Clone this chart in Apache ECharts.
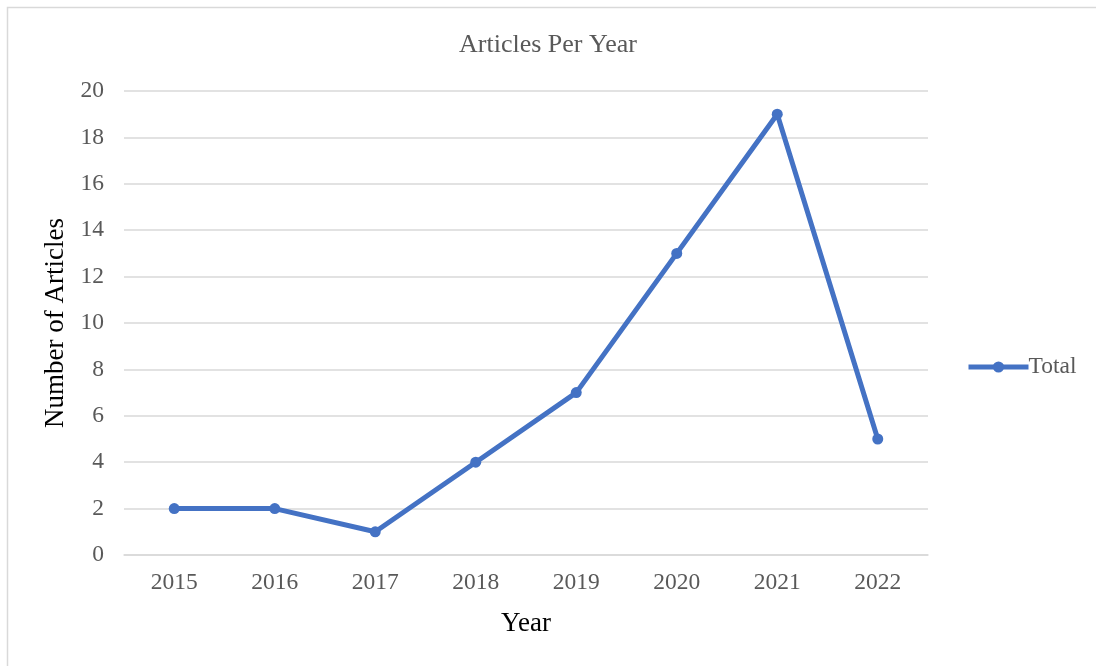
<!DOCTYPE html>
<html><head><meta charset="utf-8">
<script src="https://cdn.jsdelivr.net/npm/echarts@6/dist/echarts.min.js"></script>
<style>html,body{margin:0;padding:0;background:#fff}#c{width:1096px;height:666px}</style>
</head><body><div id="c"></div>
<script>
const years = ['2015','2016','2017','2018','2019','2020','2021','2022'];
const totals = [2, 2, 1, 4, 7, 13, 19, 5];
const yTicks = [0, 2, 4, 6, 8, 10, 12, 14, 16, 18, 20];

const FONT = '"Liberation Serif", "Times New Roman", serif';
const TXT = '#595959';
const chart = echarts.init(document.getElementById('c'), null, {renderer: 'canvas'});
chart.setOption({
  backgroundColor: '#fff',
  animation: false,
  graphic: [{type: 'rect', shape: {x: 7.5, y: 7.5, width: 1100, height: 700}, style: {fill: 'none', stroke: '#d9d9d9', lineWidth: 1.5}, silent: true}],
  title: {text: 'Articles Per Year', left: 'center', top: 27, textStyle: {fontFamily: FONT, fontSize: 26, fontWeight: 'normal', color: TXT}},
  legend: {data: ['Total'], orient: 'vertical', top: 350, left: 961,
    itemWidth: 60, itemHeight: 14, itemGap: 4,
    lineStyle: {width: 5, color: '#4472C4'},
    itemStyle: {color: '#4472C4'},
    textStyle: {fontFamily: FONT, fontSize: 23.5, color: TXT, padding: [0,0,0,-5]}},
  grid: {left: 124, right: 168, top: 91, bottom: 111, containLabel: false},
  xAxis: {type: 'category', data: years, boundaryGap: true, name: 'Year', nameLocation: 'middle', nameGap: 55,
    nameTextStyle: {fontFamily: FONT, fontSize: 27, color: '#000'},
    axisLine: {lineStyle: {color: '#d9d9d9', width: 1.5}}, axisTick: {show: false},
    axisLabel: {fontFamily: FONT, fontSize: 23.5, color: TXT, margin: 16}},
  yAxis: {type: 'value', min: 0, max: 20, interval: 2, name: 'Number of Articles', nameLocation: 'middle', nameGap: 46,
    nameTextStyle: {fontFamily: FONT, fontSize: 27, color: '#000'},
    axisLine: {show: false}, axisTick: {show: false},
    splitLine: {lineStyle: {color: '#d9d9d9', width: 1.5}},
    axisLabel: {fontFamily: FONT, fontSize: 23.5, color: TXT, margin: 20,
      formatter: v => yTicks.includes(v) ? String(v) : ''}},
  series: [{name: 'Total', type: 'line', data: totals, symbol: 'circle', symbolSize: 11,
    lineStyle: {color: '#4472C4', width: 5}, itemStyle: {color: '#4472C4'}}]
});
</script></body></html>
